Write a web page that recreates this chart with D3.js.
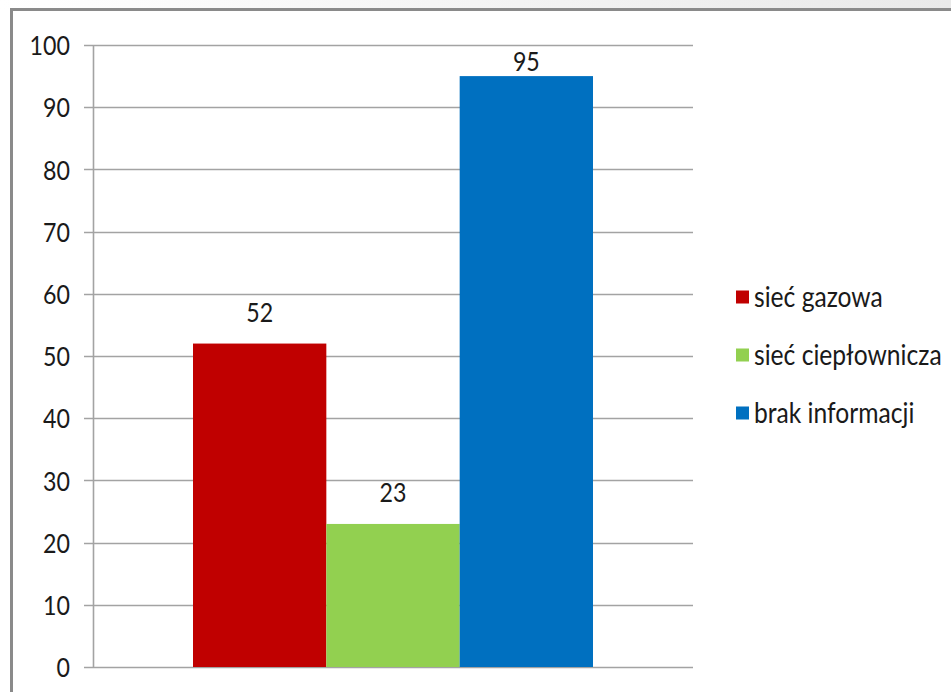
<!DOCTYPE html>
<html>
<head>
<meta charset="utf-8">
<script src="https://cdn.jsdelivr.net/npm/d3@7"></script>
<style>
html,body{margin:0;padding:0;background:#fff;overflow:hidden;}
svg{display:block;}
text{font-family:Lato,"Open Sans",sans-serif;fill:#1a1a1a;}
</style>
</head>
<body>
<script>
const categories = ["sieć gazowa", "sieć ciepłownicza", "brak informacji"];
const values = [52, 23, 95];
const colors = ["#C00000", "#92D050", "#0070C0"];
const yTicks = [0, 10, 20, 30, 40, 50, 60, 70, 80, 90, 100];

const W = 951, H = 692;
const SX = 0.86; // horizontal condensing to mimic a narrow font
const SXL = 0.88;
const FS = 27;
const FSL = 28;
const svg = d3.select("body").append("svg").attr("width", W).attr("height", H);

// top background gradient and frame
const defs = svg.append("defs");
const g1 = defs.append("linearGradient").attr("id", "topg").attr("x1", 0).attr("x2", 1).attr("y1", 0).attr("y2", 0);
g1.append("stop").attr("offset", 0).attr("stop-color", "#ffffff");
g1.append("stop").attr("offset", 1).attr("stop-color", "#e9e9e9");
svg.append("rect").attr("x", 0).attr("y", 0).attr("width", W).attr("height", 9).attr("fill", "url(#topg)");
svg.append("rect").attr("x", 11.5).attr("y", 9.5).attr("width", W + 20).attr("height", H + 20)
  .attr("fill", "#fff").attr("stroke", "#8a8a8a").attr("stroke-width", 3);

const plot = {left: 93, right: 693, top: 45, bottom: 667};

const y = d3.scaleLinear().domain([0, 100]).range([plot.bottom, plot.top]);
const xOuter = d3.scaleBand().domain(["g"]).range([plot.left, plot.right]).paddingInner(0).paddingOuter(0.25);
const xInner = d3.scaleBand().domain(categories).range([0, xOuter.bandwidth()]).padding(0);

// gridlines
svg.append("g").selectAll("line").data(yTicks).join("line")
  .attr("x1", plot.left - 9).attr("x2", plot.right)
  .attr("y1", d => Math.round(y(d)) + 0.5).attr("y2", d => Math.round(y(d)) + 0.5)
  .attr("stroke", "#a3a3a3").attr("stroke-width", 1.6);

// y axis via d3
const yAxis = d3.axisLeft(y).tickValues(yTicks).tickSize(0).tickPadding(23 / SX);
const ag = svg.append("g").attr("transform", `translate(${plot.left},0)`).call(yAxis);
ag.select(".domain").remove();
ag.selectAll("text").attr("font-size", FS).attr("fill", "#1a1a1a")
  .attr("font-family", "Lato, sans-serif").attr("dy", "0.36em")
  .attr("transform", `scale(${SX},1)`);
svg.append("line").attr("x1", plot.left + 0.5).attr("x2", plot.left + 0.5)
  .attr("y1", plot.top).attr("y2", plot.bottom).attr("stroke", "#a3a3a3").attr("stroke-width", 1.6);

// bars
const bg = svg.append("g").attr("transform", `translate(${xOuter("g")},0)`);
bg.selectAll("rect").data(values).join("rect")
  .attr("x", (d, i) => xInner(categories[i]))
  .attr("width", xInner.bandwidth())
  .attr("y", d => y(d))
  .attr("height", d => y(0) - y(d))
  .attr("fill", (d, i) => colors[i]);

// labels
bg.selectAll("text").data(values).join("text")
  .attr("transform", (d, i) => `translate(${xInner(categories[i]) + xInner.bandwidth() / 2},${Math.max(y(d) - 22, y(100) + 26)}) scale(${SX},1)`)
  .attr("text-anchor", "middle").attr("font-size", FS)
  .text(d => d);

// legend
const lg = svg.append("g").attr("transform", "translate(736,0)");
const ly = [297, 355, 413];
categories.forEach((c, i) => {
  lg.append("rect").attr("x", 0).attr("y", ly[i] - 6.5).attr("width", 13).attr("height", 13).attr("fill", colors[i]);
  lg.append("text").attr("transform", `translate(18,${ly[i]}) scale(${SXL},1)`)
    .attr("dy", "0.34em").attr("font-size", FSL).text(c);
});
</script>
</body>
</html>
